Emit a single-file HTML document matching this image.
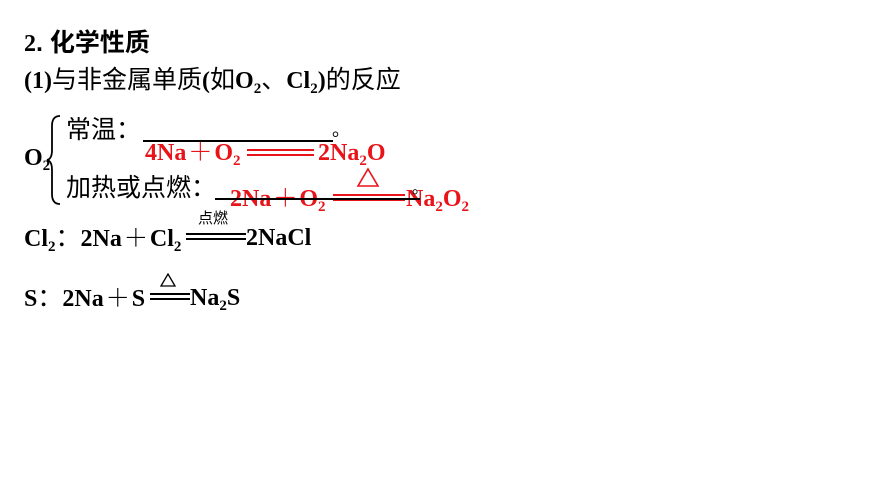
<html><head><style>
body{margin:0;width:870px;height:489px;background:#fff;position:relative;overflow:hidden;font-family:"Liberation Serif","Noto Serif CJK SC",serif;}
.a{position:absolute;white-space:nowrap;line-height:1;}
.b{font-weight:bold;font-size:24px;}
.c{font-family:"Liberation Sans","Noto Sans CJK SC",sans-serif;font-size:25px;font-weight:normal;}
.r{color:#e8141a;}
sub{font-size:15px;vertical-align:-5px;line-height:0;}
.eq{position:absolute;height:3px;border-top:2px solid #000;border-bottom:2px solid #000;}
.eq.r{border-color:#e8141a;}
.hl{position:absolute;height:1.5px;background:#000;}
.p{margin:0 2px;}
</style></head><body>
<div class="a b" style="left:24px;top:31px;">2<span class="c" style="font-weight:bold">. 化学性质</span></div>
<div class="a b" style="left:24px;top:68px;">(1)<span class="c">与非金属单质</span>(<span class="c">如</span>O<sub>2</sub><span class="c">、</span>Cl<sub>2</sub>)<span class="c">的反应</span></div>
<div class="a b" style="left:24px;top:146px;">O<sub>2</sub></div>
<svg class="a" style="left:46px;top:114px" width="18" height="92"><path d="M14 2 Q6 2 6 12 L6 36 Q6 45 1 46 Q6 47 6 56 L6 80 Q6 90 14 90" fill="none" stroke="#000" stroke-width="1.8"/></svg>
<div class="a c" style="left:66px;top:118px;">常温：</div>
<div class="hl" style="left:143px;top:140px;width:190px;"></div>
<div class="a c" style="left:332px;top:121px;font-size:18px;">。</div>
<div class="a b r" style="left:145px;top:141px;">4Na<span class="p">＋</span>O<sub>2</sub></div>
<div class="eq r" style="left:247px;top:149px;width:67px;"></div>
<div class="a b r" style="left:318px;top:141px;">2Na<sub>2</sub>O</div>
<div class="a c" style="left:66px;top:176px;">加热或点燃：</div>
<div class="a b r" style="left:230px;top:187px;">2Na<span class="p">＋</span>O<sub>2</sub></div>
<div class="eq r" style="left:333px;top:194px;width:72px;"></div>
<div class="a b r" style="left:406px;top:187px;">Na<sub>2</sub>O<sub>2</sub></div>
<div class="hl" style="left:215px;top:198px;width:205px;"></div>
<div class="a c" style="left:412px;top:181px;font-size:16px;">。</div>
<svg class="a" style="left:356px;top:167px" width="24" height="21"><path d="M12 2 L22 19 L2 19 Z" fill="none" stroke="#e8141a" stroke-width="1.6"/></svg>
<div class="a b" style="left:24px;top:226px;">Cl<sub>2</sub><span class="c">：</span>2Na<span class="p">＋</span>Cl<sub>2</sub></div>
<div class="eq" style="left:186px;top:233px;width:60px;"></div>
<div class="a b" style="left:246px;top:226px;">2NaCl</div>
<div class="a c" style="left:198px;top:211px;font-size:15px;">点燃</div>
<div class="a b" style="left:24px;top:286px;">S<span class="c">：</span>2Na<span class="p">＋</span>S</div>
<div class="eq" style="left:150px;top:293px;width:40px;"></div>
<div class="a b" style="left:190px;top:286px;">Na<sub>2</sub>S</div>
<svg class="a" style="left:160px;top:273px" width="16" height="14"><path d="M8 1 L15 13 L1 13 Z" fill="none" stroke="#000" stroke-width="1.3"/></svg>
</body></html>
